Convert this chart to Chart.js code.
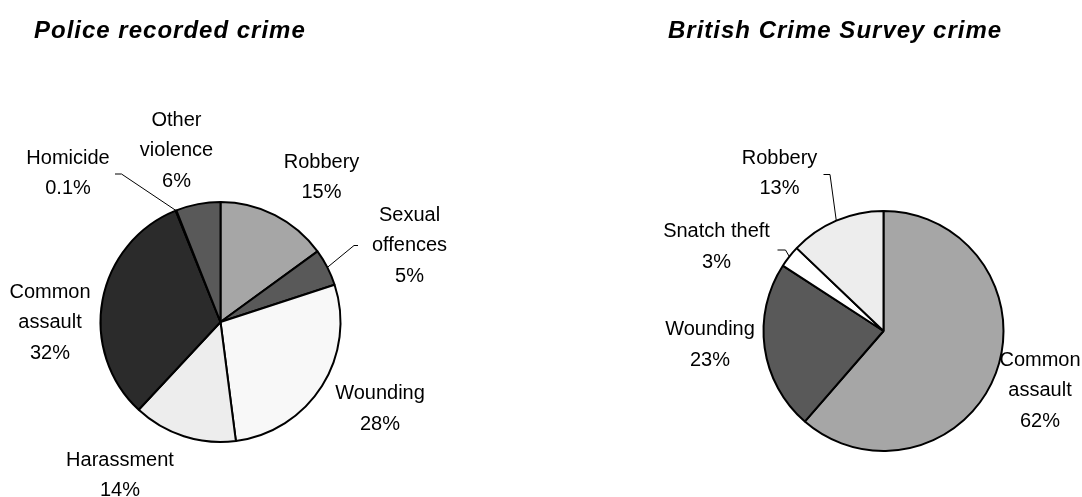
<!DOCTYPE html>
<html>
<head>
<meta charset="utf-8">
<script src="https://cdn.jsdelivr.net/npm/chart.js@4/dist/chart.umd.min.js"></script>
<style>
  html, body { margin: 0; padding: 0; background: #fff; }
  #wrap { position: relative; width: 1082px; height: 497px; overflow: hidden; }
  canvas { position: absolute; top: 0; }
</style>
</head>
<body>
<div id="wrap">
  <canvas id="police" width="541" height="497" style="left:0"></canvas>
  <canvas id="bcs" width="541" height="497" style="left:541px"></canvas>
</div>
<script>
// Police recorded violent crime, share by offence group (%)
const policeCategories = ['Robbery', 'Sexual\noffences', 'Wounding', 'Harassment', 'Common\nassault', 'Homicide', 'Other\nviolence'];
const policeShares = [15, 5, 28, 14, 32, 0.1, 6];
const policeColors = ['#a6a6a6', '#595959', '#f8f8f8', '#ededed', '#2b2b2b', '#595959', '#595959'];

// British Crime Survey violent crime, share by offence group (%)
const bcsCategories = ['Common\nassault', 'Wounding', 'Snatch theft', 'Robbery'];
const bcsShares = [62, 23, 3, 13];
const bcsColors = ['#a6a6a6', '#595959', '#ffffff', '#ededed'];

const titles = ['Police recorded crime', 'British Crime Survey crime'];

// Label placement, relative to each pie's centre (first text line centre),
// plus optional two-point leader path that ends on the slice's outer edge.
const policeLabelLayout = [
  { dx: 101, dy: -160 },
  { dx: 189, dy: -107, leader: [[137.5, -76.5], [133.5, -76.5]] },
  { dx: 159.5, dy: 71.5 },
  { dx: -100.5, dy: 138 },
  { dx: -170.5, dy: -30 },
  { dx: -152.5, dy: -164, leader: [[-105.5, -148], [-99, -148]] },
  { dx: -44, dy: -202 }
];
const bcsLabelLayout = [
  { dx: 156.5, dy: 29 },
  { dx: -173.5, dy: -1.5 },
  { dx: -167, dy: -99.5, leader: [[-106, -81], [-98, -81]] },
  { dx: -104, dy: -173, leader: [[-60, -156.5], [-53.5, -156.5]] }
];

const LABEL_FONT = '20px "Liberation Sans", Arial, sans-serif';
const TITLE_FONT = 'italic bold 24px "Liberation Sans", Arial, sans-serif';

const sliceLabels = {
  id: 'sliceLabels',
  afterDatasetsDraw(chart, args, opts) {
    const ctx = chart.ctx;
    const arcs = chart.getDatasetMeta(0).data;
    const values = chart.data.datasets[0].data;
    const cx = arcs[0].x, cy = arcs[0].y;
    ctx.save();
    ctx.fillStyle = '#000';
    ctx.strokeStyle = '#000';
    ctx.lineWidth = 1;
    ctx.font = LABEL_FONT;
    ctx.textAlign = 'center';
    ctx.textBaseline = 'middle';
    chart.data.labels.forEach((name, i) => {
      const L = opts.layout[i];
      const lines = name.split('\n').concat(values[i] + '%');
      lines.forEach((t, k) => ctx.fillText(t, cx + L.dx, cy + L.dy + k * opts.lineGap));
      if (L.leader) {
        const a = arcs[i];
        const mid = (a.startAngle + a.endAngle) / 2;
        const ex = cx + Math.cos(mid) * a.outerRadius;
        const ey = cy + Math.sin(mid) * a.outerRadius;
        ctx.beginPath();
        ctx.moveTo(cx + L.leader[0][0], cy + L.leader[0][1]);
        ctx.lineTo(cx + L.leader[1][0], cy + L.leader[1][1]);
        ctx.lineTo(ex, ey);
        ctx.stroke();
      }
    });
    ctx.font = TITLE_FONT;
    ctx.textAlign = 'left';
    ctx.textBaseline = 'alphabetic';
    ctx.letterSpacing = opts.titleSpacing;
    ctx.fillText(opts.title, opts.titleX, opts.titleY);
    ctx.restore();
  }
};

function makePie(id, labels, data, colors, layout, padding, title, titleX) {
  return new Chart(document.getElementById(id), {
    type: 'pie',
    data: {
      labels: labels,
      datasets: [{
        data: data,
        backgroundColor: colors,
        borderColor: '#000',
        borderWidth: 2
      }]
    },
    options: {
      responsive: false,
      animation: false,
      devicePixelRatio: 1,
      radius: 120,
      layout: { padding: padding },
      plugins: {
        legend: { display: false },
        tooltip: { enabled: false },
        sliceLabels: {
          layout: layout,
          lineGap: 30.5,
          title: title,
          titleX: titleX,
          titleY: 38,
          titleSpacing: '1px'
        }
      }
    },
    plugins: [sliceLabels]
  });
}

makePie('police', policeCategories, policeShares, policeColors, policeLabelLayout,
  { left: 0, right: 100, top: 147, bottom: 0 }, titles[0], 34);
makePie('bcs', bcsCategories, bcsShares, bcsColors, bcsLabelLayout,
  { left: 144, right: 0, top: 165, bottom: 0 }, titles[1], 127);
</script>
</body>
</html>
